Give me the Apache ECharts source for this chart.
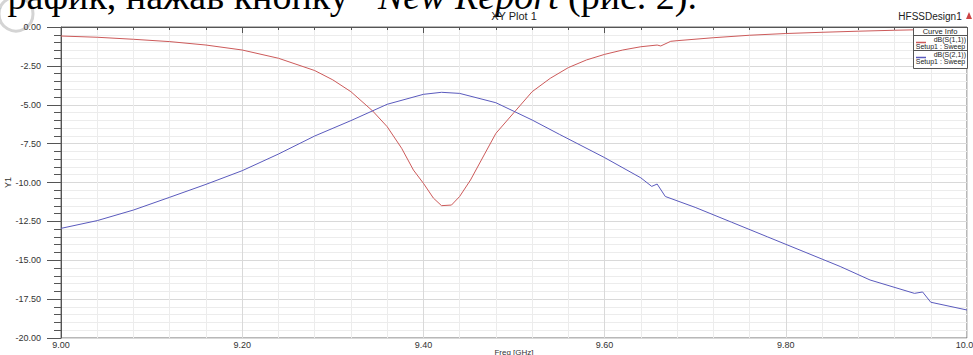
<!DOCTYPE html>
<html>
<head>
<meta charset="utf-8">
<script src="https://cdn.jsdelivr.net/npm/echarts@6/dist/echarts.min.js"></script>
<style>html,body{margin:0;padding:0;background:#fff;}#c{width:973px;height:355px;}</style>
</head>
<body>
<div id="c"></div>
<script>
// ---- data ----
var xTicks = [9.00, 9.20, 9.40, 9.60, 9.80, 10.00];
var yTicks = [0, -2.5, -5, -7.5, -10, -12.5, -15, -17.5, -20];

var s11Freq = [9.00, 9.04, 9.08, 9.12, 9.16, 9.20, 9.24, 9.28, 9.30, 9.32, 9.344, 9.36, 9.376, 9.389, 9.40, 9.411, 9.42, 9.431, 9.44, 9.452, 9.467, 9.48, 9.50, 9.52, 9.54, 9.56, 9.58, 9.60, 9.62, 9.64, 9.658, 9.662, 9.673, 9.68, 9.72, 9.76, 9.80, 9.84, 9.88, 9.92, 9.96, 10.00];
var s11dB = [-0.58, -0.66, -0.79, -0.94, -1.16, -1.48, -2.01, -2.80, -3.40, -4.16, -5.40, -6.41, -7.80, -9.20, -10.05, -11.00, -11.49, -11.45, -10.90, -9.84, -8.23, -6.84, -5.50, -4.16, -3.30, -2.61, -2.12, -1.76, -1.48, -1.27, -1.16, -1.22, -0.92, -0.88, -0.69, -0.53, -0.42, -0.34, -0.27, -0.21, -0.16, -0.12];

var s21Freq = [9.00, 9.04, 9.08, 9.12, 9.16, 9.20, 9.24, 9.28, 9.32, 9.36, 9.40, 9.42, 9.44, 9.48, 9.52, 9.55, 9.60, 9.64, 9.652, 9.658, 9.667, 9.70, 9.74, 9.78, 9.82, 9.86, 9.893, 9.942, 9.951, 9.96, 10.00];
var s21dB = [-12.95, -12.45, -11.77, -10.95, -10.12, -9.24, -8.17, -7.01, -6.02, -4.97, -4.33, -4.20, -4.27, -4.87, -5.98, -6.90, -8.40, -9.70, -10.25, -10.10, -10.90, -11.60, -12.55, -13.50, -14.45, -15.40, -16.27, -17.13, -17.04, -17.70, -18.20];

var seriesNames = ['dB(S(1,1))', 'dB(S(2,1))'];
var setupName = 'Setup1 : Sweep';

function pairs(xs, ys) { return xs.map(function (x, i) { return [x, ys[i]]; }); }

var FONT = 'Liberation Sans, Arial, sans-serif';
var SERIF = 'Liberation Serif, Times New Roman, serif';
function serifText(x, txt, italic) {
  return { type: 'text', x: x, y: -23, z: 10, style: {
    text: txt, fontSize: 38, fontFamily: SERIF, fontStyle: italic ? 'italic' : 'normal',
    fill: '#000', align: 'left', verticalAlign: 'top' } };
}
function smallText(x, y, txt, size, align) {
  return { type: 'text', x: x, y: y, z: 21, style: {
    text: txt, fontSize: size, fontFamily: FONT, fill: '#222', align: align, verticalAlign: 'middle' } };
}
var chart = echarts.init(document.getElementById('c'), null, { renderer: 'svg' });
chart.setOption({
  animation: false,
  backgroundColor: '#ffffff',
  grid: { left: 61, right: 6, top: 27, bottom: 17, containLabel: false, outerBoundsMode: 'none',
    show: true, borderColor: '#707070', borderWidth: 1, backgroundColor: 'transparent' },
  xAxis: {
    type: 'value', min: xTicks[0], max: xTicks[xTicks.length - 1], interval: 0.2,
    name: 'Freq [GHz]', nameLocation: 'middle', nameGap: 10, nameMoveOverlap: false,
    nameTextStyle: { fontFamily: FONT, fontSize: 8, color: '#333' },
    axisLine: { show: true, lineStyle: { color: '#555', width: 1 } },
    axisTick: { show: true, length: 6, inside: false, lineStyle: { color: '#555' } },
    minorTick: { show: true, splitNumber: 5, length: 3, lineStyle: { color: '#555' } },
    axisLabel: { fontFamily: FONT, fontSize: 9, color: '#333', margin: 2, hideOverlap: false,
      formatter: function (v) { return v.toFixed(2); } },
    splitLine: { show: true, lineStyle: { color: '#d9d9d9', width: 1 } },
    minorSplitLine: { show: true, lineStyle: { color: '#ececec', width: 1 } }
  },
  yAxis: {
    type: 'value', min: yTicks[yTicks.length - 1], max: yTicks[0], interval: 2.5,
    name: 'Y1', nameLocation: 'middle', nameGap: 49, nameMoveOverlap: false,
    nameTextStyle: { fontFamily: FONT, fontSize: 9, color: '#333' },
    axisLine: { show: true, lineStyle: { color: '#555', width: 1 } },
    axisTick: { show: true, length: 14, lineStyle: { color: '#555' } },
    minorTick: { show: true, splitNumber: 5, length: 7, lineStyle: { color: '#555' } },
    axisLabel: { fontFamily: FONT, fontSize: 9, color: '#333', margin: 20, formatter: function (v) { return v.toFixed(2); } },
    splitLine: { show: true, lineStyle: { color: '#d9d9d9', width: 1 } },
    minorSplitLine: { show: true, lineStyle: { color: '#ececec', width: 1 } }
  },
  series: [
    { name: seriesNames[0], type: 'line', data: pairs(s11Freq, s11dB), showSymbol: false, symbol: 'none',
      lineStyle: { color: '#cc5a5a', width: 1 }, itemStyle: { color: '#cc5a5a' } },
    { name: seriesNames[1], type: 'line', data: pairs(s21Freq, s21dB), showSymbol: false, symbol: 'none',
      lineStyle: { color: '#5a5abd', width: 1 }, itemStyle: { color: '#5a5abd' } }
  ],
  graphic: [
    { type: 'circle', shape: { cx: 16, cy: 14, r: 17 }, style: { fill: 'none', stroke: '#d4d4d4', lineWidth: 3 }, z: 0 },
    serifText(-12, 'График, нажав кнопку', false),
    serifText(378, 'New Report', true),
    serifText(568, '(рис. 2).', false),
    { type: 'text', x: 514, y: 15.5, z: 11, style: { text: 'XY Plot 1', fontSize: 11, fontFamily: FONT, fill: '#222', align: 'center', verticalAlign: 'middle' } },
    { type: 'text', x: 930, y: 16, z: 10, style: { text: 'HFSSDesign1', fontSize: 10, fontFamily: FONT, fill: '#222', align: 'center', verticalAlign: 'middle' } },
    { type: 'polygon', shape: { points: [[966, 19], [969, 12], [972, 19]] }, style: { fill: '#c44' }, z: 10 },
    { type: 'rect', shape: { x: 913.5, y: 27.5, width: 54, height: 41 }, style: { fill: '#fff', stroke: '#555', lineWidth: 1 }, z: 20 },
    smallText(940, 31, 'Curve Info', 7.5, 'center'),
    { type: 'line', shape: { x1: 913.5, y1: 35.5, x2: 967.5, y2: 35.5 }, style: { stroke: '#555', lineWidth: 1 }, z: 21 },
    { type: 'line', shape: { x1: 916, y1: 42.5, x2: 926, y2: 42.5 }, style: { stroke: '#cc5a5a', lineWidth: 1.5 }, z: 21 },
    smallText(966, 39.5, seriesNames[0], 7, 'right'),
    smallText(940.5, 46.5, setupName, 7, 'center'),
    { type: 'line', shape: { x1: 913.5, y1: 50.5, x2: 967.5, y2: 50.5 }, style: { stroke: '#555', lineWidth: 1 }, z: 21 },
    { type: 'line', shape: { x1: 916, y1: 57.5, x2: 926, y2: 57.5 }, style: { stroke: '#5a5abd', lineWidth: 1.5 }, z: 21 },
    smallText(966, 54.5, seriesNames[1], 7, 'right'),
    smallText(940.5, 61.5, setupName, 7, 'center')
  ]
});
</script>
</body>
</html>
